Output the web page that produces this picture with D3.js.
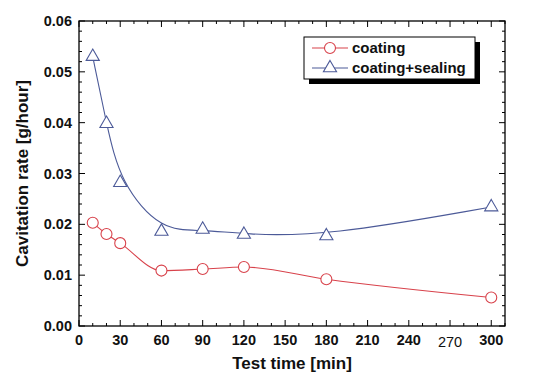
<!DOCTYPE html>
<html>
<head>
<meta charset="utf-8">
<script src="https://cdn.jsdelivr.net/npm/d3@7"></script>
<style>
  body { margin: 0; background: #fff; }
  text { font-family: "Liberation Sans", Arial, sans-serif; font-weight: bold; fill: #111; }
</style>
</head>
<body>
<div id="chart"></div>
<script>
var times = [10, 20, 30, 60, 90, 120, 180, 300];
var coating = [0.0203, 0.0181, 0.0163, 0.0109, 0.0112, 0.0116, 0.0092, 0.0056];
var sealing = [0.0530, 0.0398, 0.0282, 0.0186, 0.0190, 0.0180, 0.0177, 0.0234];
var xTicks = [0, 30, 60, 90, 120, 150, 180, 210, 240, 270, 300];
var yTicks = [0, 0.01, 0.02, 0.03, 0.04, 0.05, 0.06];
var seriesNames = ['coating', 'coating+sealing'];

var width = 534, height = 385;
var margin = {top: 21, left: 79, right: 29, bottom: 59};
var red = '#d8424b', blue = '#4c5a98';

var svg = d3.select('#chart').append('svg')
  .attr('width', width)
  .attr('height', height);

var x = d3.scaleLinear().domain([0, 310]).range([margin.left, width - margin.right]);
var y = d3.scaleLinear().domain([0, 0.06]).range([height - margin.bottom, margin.top]);

// frame
svg.append('rect')
  .attr('x', x(0)).attr('y', y(0.06))
  .attr('width', x(310) - x(0)).attr('height', y(0) - y(0.06))
  .attr('fill', 'none').attr('stroke', '#000').attr('stroke-width', 1.3);

// ticks on all four sides, pointing inward
var xMinor = d3.range(0, 311, 10), yMinor = d3.range(0, 0.0601, 0.002);
var tickG = svg.append('g').attr('stroke', '#000').attr('stroke-width', 1);
xMinor.forEach(function (t) {
  var len = t % 30 === 0 ? 6 : 3;
  tickG.append('line').attr('x1', x(t)).attr('x2', x(t)).attr('y1', y(0)).attr('y2', y(0) - len);
  tickG.append('line').attr('x1', x(t)).attr('x2', x(t)).attr('y1', y(0.06)).attr('y2', y(0.06) + len);
});
yMinor.forEach(function (t, i) {
  var len = i % 5 === 0 ? 6 : 3;
  tickG.append('line').attr('x1', x(0)).attr('x2', x(0) + len).attr('y1', y(t)).attr('y2', y(t));
  tickG.append('line').attr('x1', x(310)).attr('x2', x(310) - len).attr('y1', y(t)).attr('y2', y(t));
});

// tick labels (the 270 label sits a bit lower and lighter in the original)
svg.append('g').selectAll('text').data(xTicks).enter().append('text')
  .attr('x', function (d) { return x(d); })
  .attr('y', function (d) { return y(0) + (d === 270 ? 21 : 19); })
  .attr('text-anchor', 'middle')
  .style('font-size', '14.5px')
  .style('font-weight', d => d === 270 ? 'normal' : 'bold')
  .text(function (d) { return d; });

svg.append('g').selectAll('text').data(yTicks).enter().append('text')
  .attr('x', x(0) - 7)
  .attr('y', function (d) { return y(d) + 5; })
  .attr('text-anchor', 'end')
  .style('font-size', '14.5px')
  .text(function (d) { return d.toFixed(2); });

// axis titles
svg.append('text')
  .attr('x', (x(0) + x(310)) / 2).attr('y', 369)
  .attr('text-anchor', 'middle').style('font-size', '17px')
  .text('Test time [min]');
svg.append('text')
  .attr('transform', 'translate(28,' + ((y(0) + y(0.06)) / 2) + ') rotate(-90)')
  .attr('text-anchor', 'middle').style('font-size', '17px')
  .text('Cavitation rate [g/hour]');

// lines
var pts = function (vals) { return times.map(function (t, i) { return [t, vals[i]]; }); };
var lineRed = d3.line().x(d => x(d[0])).y(d => y(d[1])).curve(d3.curveMonotoneX);
var lineBlue = d3.line().x(d => x(d[0])).y(d => y(d[1])).curve(d3.curveBasis);

svg.append('path').attr('d', lineRed(pts(coating)))
  .attr('fill', 'none').attr('stroke', red).attr('stroke-width', 1.1);
svg.append('path').attr('d', lineBlue(pts(sealing)))
  .attr('fill', 'none').attr('stroke', blue).attr('stroke-width', 1.1);

var tri = d3.symbol().type(d3.symbolTriangle).size(75);

svg.append('g').selectAll('circle').data(pts(coating)).enter().append('circle')
  .attr('cx', d => x(d[0])).attr('cy', d => y(d[1])).attr('r', 5.5)
  .attr('fill', '#fff').attr('stroke', red).attr('stroke-width', 1.1);
svg.append('g').selectAll('path').data(pts(sealing)).enter().append('path')
  .attr('d', tri)
  .attr('transform', d => 'translate(' + x(d[0]) + ',' + y(d[1]) + ')')
  .attr('fill', '#fff').attr('stroke', blue).attr('stroke-width', 1.1);

// legend
var lg = svg.append('g').attr('transform', 'translate(304,37)');
lg.append('rect').attr('x', 5).attr('y', 5).attr('width', 171).attr('height', 42).attr('fill', '#000');
lg.append('rect').attr('x', 0).attr('y', 0).attr('width', 171).attr('height', 42)
  .attr('fill', '#fff').attr('stroke', '#000').attr('stroke-width', 1);
seriesNames.forEach(function (name, i) {
  var cy = 11 + i * 20, col = i === 0 ? red : blue;
  lg.append('line').attr('x1', 8).attr('x2', 44).attr('y1', cy).attr('y2', cy)
    .attr('stroke', col).attr('stroke-width', 1.1);
  if (i === 0) {
    lg.append('circle').attr('cx', 26).attr('cy', cy).attr('r', 5.5)
      .attr('fill', '#fff').attr('stroke', col).attr('stroke-width', 1.1);
  } else {
    lg.append('path').attr('d', tri).attr('transform', 'translate(26,' + cy + ')')
      .attr('fill', '#fff').attr('stroke', col).attr('stroke-width', 1.1);
  }
  lg.append('text').attr('x', 48).attr('y', cy + 5).style('font-size', '15px').text(name);
});
</script>
</body>
</html>
